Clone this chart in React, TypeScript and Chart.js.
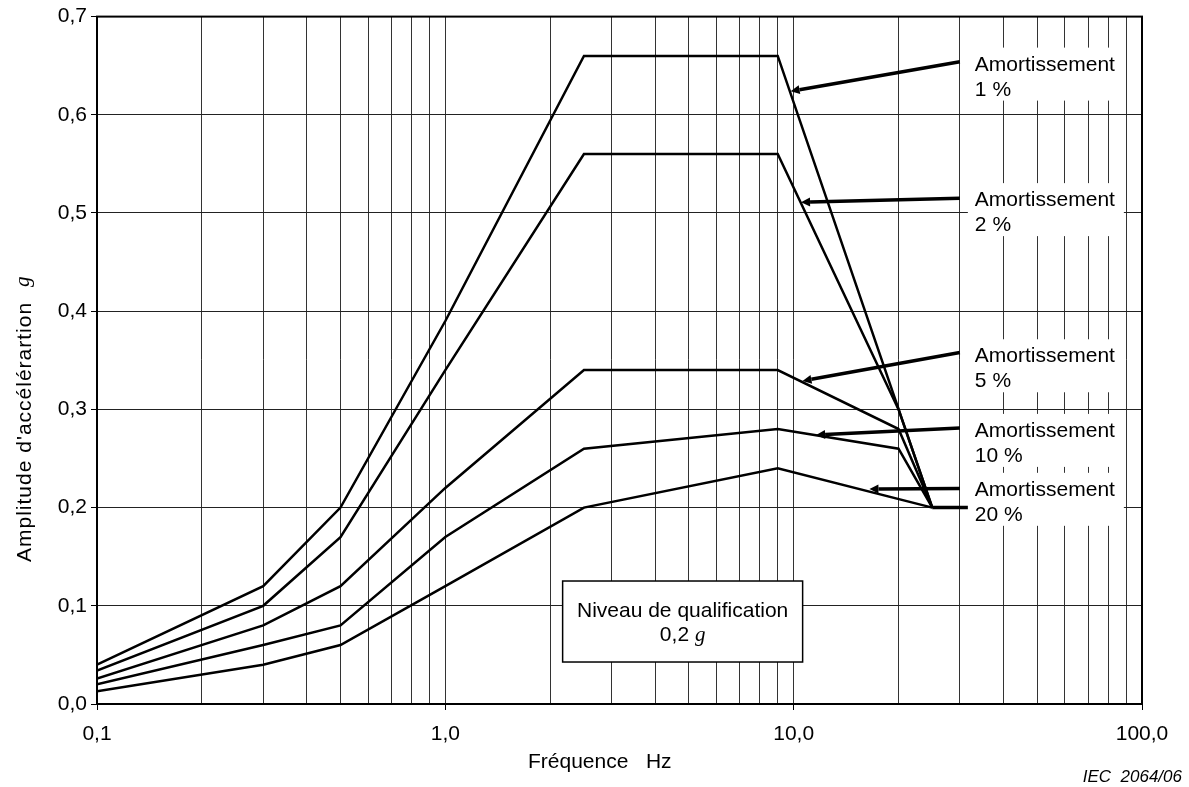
import React, { useEffect, useRef } from 'react';
import { Chart, registerables } from 'chart.js';

Chart.register(...registerables);

// ---- Data ----
const freq1 = [0.1, 0.3, 0.5, 1, 2.5, 9, 25];
const amort1 = [0.04, 0.12, 0.2, 0.39, 0.66, 0.66, 0.2];
const freq2 = [0.1, 0.3, 0.5, 1, 2.5, 9, 20, 25];
const amort2 = [0.034, 0.1, 0.17, 0.34, 0.56, 0.56, 0.3, 0.2];
const freq5 = [0.1, 0.3, 0.5, 1, 2.5, 9, 20, 25];
const amort5 = [0.026, 0.08, 0.12, 0.22, 0.34, 0.34, 0.28, 0.2];
const freq10 = [0.1, 0.3, 0.5, 1, 2.5, 9, 20, 25];
const amort10 = [0.02, 0.06, 0.08, 0.17, 0.26, 0.28, 0.26, 0.2];
const freq20 = [0.1, 0.3, 0.5, 1, 2.5, 9, 25];
const amort20 = [0.013, 0.04, 0.06, 0.12, 0.2, 0.24, 0.2];

const seriesNames = ['Amortissement 1 %', 'Amortissement 2 %', 'Amortissement 5 %', 'Amortissement 10 %', 'Amortissement 20 %'];

// annotation labels and arrows (data coordinates)
const labelLine1 = 'Amortissement';
const labelLine2 = ['1 %', '2 %', '5 %', '10 %', '20 %'];
const labelBaselineY = [0.645, 0.507, 0.348, 0.272, 0.212];
const arrowStartX = 30;
const arrowStartY = [0.654, 0.515, 0.358, 0.281, 0.2194];
const arrowEndX = [9.8, 10.5, 10.6, 11.6, 16.5];
const arrowEndY = [0.624, 0.511, 0.329, 0.274, 0.219];
const levelSegX = [25, 32];
const levelSegY = [0.2, 0.2];

const qualLine1 = 'Niveau de qualification';
const qualLine2 = '0,2 ';
const qualUnit = 'g';
const qualCenterX = 4.8;
const qualCenterY = 0.084;

// axes
const xGridTicks = [
  0.1, 0.2, 0.3, 0.4, 0.5, 0.6, 0.7, 0.8, 0.9,
  1, 2, 3, 4, 5, 6, 7, 8, 9,
  10, 20, 30, 40, 50, 60, 70, 80, 90,
  100,
];
const xLabelTicks = [0.1, 1, 10, 100];
const xTickLabels = ['0,1', '1,0', '10,0', '100,0'];
const yTicks = [0, 0.1, 0.2, 0.3, 0.4, 0.5, 0.6, 0.7];
const yTickLabels = ['0,0', '0,1', '0,2', '0,3', '0,4', '0,5', '0,6', '0,7'];

const xTitle = 'Fréquence   Hz';
const yTitle = "Amplitude d'accélérartion";
const yTitleUnit = 'g';
const footnote = 'IEC  2064/06';

const FONT = "'Liberation Sans', Arial, sans-serif";
const SERIF = "'Liberation Serif', 'Times New Roman', serif";

function pts(xs: number[], ys: number[]) {
  return xs.map((x, i) => ({ x, y: ys[i] }));
}

const annotationPlugin = {
  id: 'annotations',
  afterDraw(chart: any) {
    const { ctx, chartArea } = chart;
    const xs = chart.scales.x;
    const ys = chart.scales.y;
    ctx.save();

    // level segment (thick)
    ctx.strokeStyle = '#000';
    ctx.lineWidth = 3.5;
    ctx.lineCap = 'butt';
    ctx.beginPath();
    ctx.moveTo(xs.getPixelForValue(levelSegX[0]), ys.getPixelForValue(levelSegY[0]));
    ctx.lineTo(xs.getPixelForValue(levelSegX[1]), ys.getPixelForValue(levelSegY[1]));
    ctx.stroke();

    // arrows
    for (let i = 0; i < arrowStartY.length; i++) {
      const x0 = xs.getPixelForValue(arrowStartX);
      const y0 = ys.getPixelForValue(arrowStartY[i]);
      const x1 = xs.getPixelForValue(arrowEndX[i]);
      const y1 = ys.getPixelForValue(arrowEndY[i]);
      const ang = Math.atan2(y1 - y0, x1 - x0);
      const headLen = 9;
      const bx = x1 - headLen * Math.cos(ang);
      const by = y1 - headLen * Math.sin(ang);
      ctx.lineWidth = 3.5;
      ctx.beginPath();
      ctx.moveTo(x0, y0);
      ctx.lineTo(bx, by);
      ctx.stroke();
      ctx.beginPath();
      ctx.moveTo(x1, y1);
      ctx.lineTo(bx + 4.5 * Math.sin(ang), by - 4.5 * Math.cos(ang));
      ctx.lineTo(bx - 4.5 * Math.sin(ang), by + 4.5 * Math.cos(ang));
      ctx.closePath();
      ctx.fillStyle = '#000';
      ctx.fill();
    }

    // label boxes
    const lx = xs.getPixelForValue(arrowStartX);
    ctx.font = `21px ${FONT}`;
    ctx.textAlign = 'left';
    ctx.textBaseline = 'alphabetic';
    for (let i = 0; i < labelLine2.length; i++) {
      const b = ys.getPixelForValue(labelBaselineY[i]);
      ctx.fillStyle = '#fff';
      ctx.fillRect(lx + 8, b - 23, 156, 53);
      ctx.fillStyle = '#000';
      ctx.fillText(labelLine1, lx + 15, b);
      ctx.fillText(labelLine2[i], lx + 15, b + 25);
    }

    // qualification box
    const cx = xs.getPixelForValue(qualCenterX);
    const cy = ys.getPixelForValue(qualCenterY);
    const bw = 240, bh = 81;
    ctx.fillStyle = '#fff';
    ctx.fillRect(cx - bw / 2, cy - bh / 2, bw, bh);
    ctx.strokeStyle = '#000';
    ctx.lineWidth = 1.5;
    ctx.strokeRect(cx - bw / 2, cy - bh / 2, bw, bh);
    ctx.fillStyle = '#000';
    ctx.textAlign = 'center';
    ctx.font = `21px ${FONT}`;
    ctx.fillText(qualLine1, cx, cy - 5);
    const w2 = ctx.measureText(qualLine2).width;
    ctx.font = `italic 21px ${SERIF}`;
    const wg = ctx.measureText(qualUnit).width;
    const startX = cx - (w2 + wg) / 2;
    ctx.textAlign = 'left';
    ctx.font = `21px ${FONT}`;
    ctx.fillText(qualLine2, startX, cy + 19);
    ctx.font = `italic 21px ${SERIF}`;
    ctx.fillText(qualUnit, startX + w2, cy + 19);

    // plot frame
    ctx.strokeStyle = '#000';
    ctx.lineWidth = 2;
    ctx.strokeRect(chartArea.left, chartArea.top, chartArea.right - chartArea.left, chartArea.bottom - chartArea.top);

    // x title
    ctx.font = `21px ${FONT}`;
    ctx.textAlign = 'left';
    ctx.fillText(xTitle, 528, 768);

    // footnote
    ctx.font = `italic 17px ${FONT}`;
    ctx.textAlign = 'right';
    ctx.fillText(footnote, 1182, 782);

    // y title
    ctx.translate(31, 562);
    ctx.rotate(-Math.PI / 2);
    ctx.font = `21px ${FONT}`;
    ctx.textAlign = 'left';
    (ctx as any).letterSpacing = '1px';
    ctx.fillText(yTitle, 0, 0);
    (ctx as any).letterSpacing = '0px';
    ctx.font = `italic 21px ${SERIF}`;
    ctx.fillText(yTitleUnit, 275, -2);

    ctx.restore();
  },
};

export default function App() {
  const ref = useRef<HTMLCanvasElement | null>(null);

  useEffect(() => {
    document.body.style.margin = '0';
    const canvas = ref.current;
    if (!canvas) return;
    const series = [
      pts(freq1, amort1),
      pts(freq2, amort2),
      pts(freq5, amort5),
      pts(freq10, amort10),
      pts(freq20, amort20),
    ];
    const chart = new Chart(canvas, {
      type: 'line',
      data: {
        datasets: series.map((d, i) => ({
          label: seriesNames[i],
          data: d,
          borderColor: '#000',
          borderWidth: 2.5,
          pointRadius: 0,
          tension: 0,
          fill: false,
        })),
      },
      options: {
        animation: false,
        responsive: false,
        maintainAspectRatio: false,
        devicePixelRatio: 1,
        parsing: false as any,
        layout: { padding: { top: 16, right: 47, bottom: 0, left: 0 } },
        plugins: {
          legend: { display: false },
          tooltip: { enabled: false },
          title: { display: false },
        },
        scales: {
          x: {
            type: 'logarithmic',
            min: 0.1,
            max: 100,
            afterFit: (s: any) => { s.height = 83; },
            afterBuildTicks: (s: any) => { s.ticks = xGridTicks.map((v) => ({ value: v })); },
            ticks: {
              autoSkip: false,
              maxRotation: 0,
              padding: 12,
              color: '#000',
              font: { family: FONT, size: 21 },
              callback: (v: any) => {
                const idx = xLabelTicks.findIndex((t) => Math.abs(t - Number(v)) < 1e-9);
                return idx >= 0 ? xTickLabels[idx] : '';
              },
            },
            grid: {
              color: '#333',
              lineWidth: 1,
              tickLength: 6,
              tickColor: (c: any) => {
                const v = c.tick ? c.tick.value : NaN;
                return xLabelTicks.some((t) => Math.abs(t - v) < 1e-9) ? '#000' : 'rgba(0,0,0,0)';
              },
            },
            border: { display: true, color: '#000', width: 2 },
          },
          y: {
            type: 'linear',
            min: 0,
            max: 0.7,
            afterFit: (s: any) => { s.width = 97; },
            afterBuildTicks: (s: any) => { s.ticks = yTicks.map((v) => ({ value: v })); },
            ticks: {
              padding: 4,
              color: '#000',
              font: { family: FONT, size: 21 },
              callback: (v: any) => {
                const idx = yTicks.findIndex((t) => Math.abs(t - Number(v)) < 1e-9);
                return idx >= 0 ? yTickLabels[idx] : '';
              },
            },
            grid: { color: '#222', lineWidth: 1, tickLength: 6, tickColor: '#000' },
            border: { display: true, color: '#000', width: 2 },
          },
        },
      },
      plugins: [annotationPlugin],
    });
    return () => chart.destroy();
  }, []);

  return (
    <div style={{ width: 1189, height: 787 }}>
      <canvas ref={ref} width={1189} height={787} style={{ display: 'block', width: 1189, height: 787 }} />
    </div>
  );
}
